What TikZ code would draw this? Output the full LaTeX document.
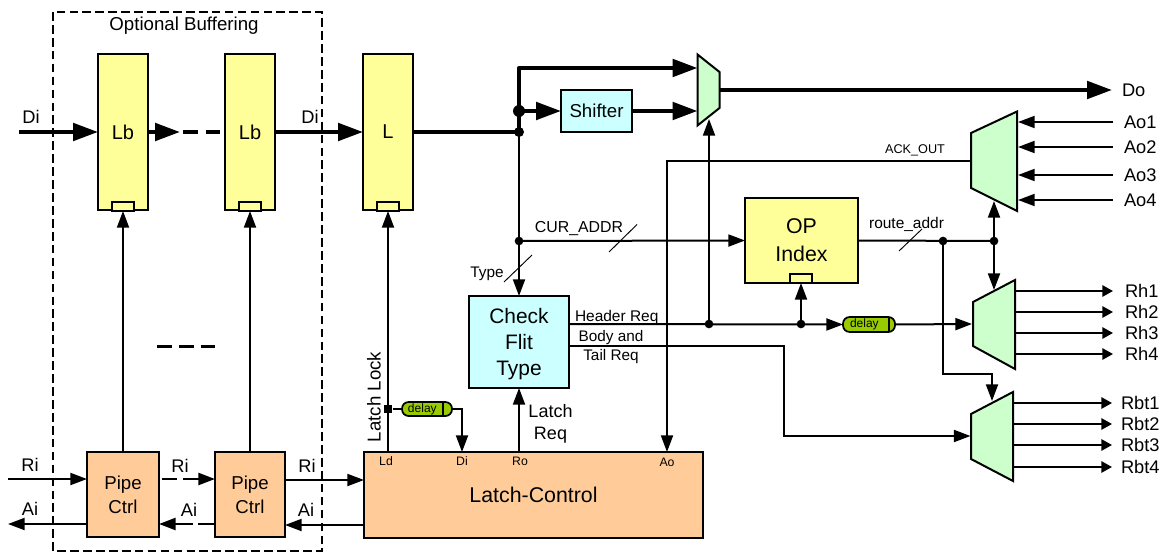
\documentclass[tikz,border=0pt]{standalone}
\usepackage{fontspec}
\setmainfont{Liberation Sans}
\usetikzlibrary{arrows.meta}
\definecolor{lyellow}{HTML}{FFFF99}
\definecolor{lorange}{HTML}{FFCC99}
\definecolor{lcyan}{HTML}{CCFFFF}
\definecolor{lgreen}{HTML}{CCFFCC}
\definecolor{ldelay}{HTML}{99CC00}
\newcommand{\fsz}[2]{\fontsize{#1pt}{#2pt}\selectfont}
% name, style, x1, y1, x2, y2, text
\newcommand{\bx}[7]{\node[blockbox,#2,minimum width={(#5-#3)*0.75pt},minimum height={(#6-#4)*0.75pt}] (#1) at ({(#3+#5)/2},{(#4+#6)/2}) {#7};}
\tikzset{
  blockbox/.style={draw=black,line width=1.4pt,inner sep=0pt,outer sep=0pt,align=center},
  yel/.style={fill=lyellow},
  ora/.style={fill=lorange},
  cya/.style={fill=lcyan},
  clk/.style={fill=lyellow,line width=1.3pt},
  muxs/.style={draw=black,fill=lgreen,line width=1.5pt,line join=miter},
  lbl/.style={inner sep=0pt,outer sep=0pt,align=center},
  heavy/.style={line width=3.1pt,-{Triangle[length=18.75pt,width=13pt]}},
  heavyline/.style={line width=3.1pt},
  med/.style={line width=1.9pt},
  sig/.style={line width=1.5pt,-{Triangle[length=12.5pt,width=9pt]}},
  sigline/.style={line width=1.5pt},
  outs/.style={line width=1.5pt,-{Triangle[length=8pt,width=8.5pt]}},
  slash/.style={line width=0.7pt},
  dot/.style={circle,fill=black,inner sep=0pt,outer sep=0pt,minimum size=6.5pt},
  bigdot/.style={circle,fill=black,inner sep=0pt,outer sep=0pt,minimum size=9pt},
  delaybox/.style={draw=black,fill=ldelay,line width=1.3pt,rounded corners=5pt,inner sep=0pt,outer sep=0pt,font=\fsz{9}{10}},
}
\begin{document}
\begin{tikzpicture}[x=0.75pt,y=-0.75pt]
\useasboundingbox (0,0) rectangle (1162,552);
% optional buffering
\draw[line width=1.5pt,dash pattern=on 6.5pt off 3.2pt] (53,12) rectangle (322,551);
\node[lbl,font=\fsz{14}{16}] (optb) at (184,26) {Optional Buffering};
% latches
\bx{lb1}{yel,font=\fsz{15}{17}}{98}{54}{148}{210}{Lb}
\bx{lb2}{yel,font=\fsz{15}{17}}{225}{54}{275}{210}{Lb}
\bx{la}{yel,font=\fsz{15}{17}}{363}{54}{413}{210}{L}
\bx{ck1}{clk}{112}{202}{134}{211}{}
\bx{ck2}{clk}{239}{202}{261}{211}{}
\bx{ck3}{clk}{377}{202}{399}{211}{}
% pipe ctrl and latch control
\bx{pc1}{ora,font=\fsz{14}{18}}{87}{452}{159}{537}{Pipe\\Ctrl}
\bx{pc2}{ora,font=\fsz{14}{18}}{215}{452}{285}{537}{Pipe\\Ctrl}
\bx{lc}{ora,font=\fsz{16}{18}}{364}{452}{703}{538}{Latch-Control}
% other boxes
\bx{shf}{cya,font=\fsz{14}{16}}{561}{90}{632}{132}{Shifter}
\bx{cft}{cya,font=\fsz{15.7}{19.5}}{469}{296}{569}{388}{\vphantom{p}\\[-14pt]Check\\Flit\\Type}
\bx{opi}{yel,font=\fsz{16}{21}}{745}{198}{858}{283}{OP\\Index}
\bx{ck4}{clk}{790}{274}{812}{283}{}
% muxes
\draw[muxs] (697.5,54.5) -- (719.5,72) -- (719.5,108) -- (697.5,125.5) -- cycle;
\draw[muxs] (971,133) -- (1017,111.5) -- (1017,211) -- (971,188) -- cycle;
\draw[muxs] (973,302) -- (1015,280) -- (1015,369) -- (973,346) -- cycle;
\draw[muxs] (971,414) -- (1013,392) -- (1013,481) -- (971,459) -- cycle;
% delay elements
\bx{dl1}{delaybox}{402}{402}{452}{416}{\hspace*{-3.5pt}delay\hspace*{3.5pt}}
\bx{dl2}{delaybox}{843}{317}{895}{332}{\hspace*{-3.5pt}delay\hspace*{3.5pt}}
\draw[line width=1.3pt] (443,402) -- (443,416);
\draw[line width=1.3pt] (889,317) -- (889,332);
% ports and junctions
\coordinate (diin) at (19,132);
\coordinate (lbgo) at (180,132);
\coordinate (lbd1) at (183,132);
\coordinate (lbd2) at (220,132);
\coordinate (j2) at (519,132);
\coordinate (jtop) at (519,68);
\coordinate (j1) at (519,111);
\coordinate (j3) at (519,241);
\coordinate (m1a) at (697.5,68);
\coordinate (m1b) at (697.5,111);
\coordinate (m1o) at (719.5,90);
\coordinate (doe) at (1112,90);
\coordinate (m1s) at (709,119);
\coordinate (jh1) at (709,324);
\coordinate (jh2) at (801,324);
\coordinate (cfh) at (569,324);
\coordinate (cfb) at (569,346);
\coordinate (b1) at (784,346);
\coordinate (b2) at (784,436);
\coordinate (m4i) at (970.5,436);
\coordinate (m3i) at (972,324);
\coordinate (aoL) at (971,161);
\coordinate (aoC) at (667,161);
\coordinate (lcao) at (667,452);
\coordinate (ra1) at (943,241);
\coordinate (ra2) at (994,241);
\coordinate (m2b) at (994,201);
\coordinate (m3t) at (994,290);
\coordinate (r1) at (943,374);
\coordinate (r2) at (992,374);
\coordinate (m4t) at (992,401);
\coordinate (sq) at (388,409);
\coordinate (lcld) at (388,452);
\coordinate (dt) at (462,409);
\coordinate (lcdi) at (462,452);
\coordinate (lcro) at (519,452);
% data path
\draw[heavy] (diin) -- (lb1.west);
\draw[heavy] (lb1.east) -- (lbgo);
\draw[heavyline,dash pattern=on 11.25pt off 6pt] (lbd1) -- (lbd2);
\draw[heavy] (lb2.east) -- (la.west);
\draw[heavyline] (la.east) -- (j2);
\draw[heavyline,line join=round] (j2) -- (j1);
\draw[heavy,line join=round] (j1) -- (jtop) -- (m1a);
\draw[heavy] (j1) -- (shf.west);
\draw[heavy] (shf.east) -- (m1b);
\draw[heavy] (m1o) -- (doe);
\node[bigdot] (jd1) at (j1) {};
\node[dot,minimum size=7.5pt] (jd2) at (j2) {};
\draw[med] (j2) -- (j3);
% down from data path
\draw[sig] (j3) -- (cft.north);
\draw[sig] (j3) -- (opi.west);
\node[dot] (jd3) at (j3) {};
\draw[slash] (609,252) -- (637,224.5);
\draw[slash] (504,282) -- (532,255);
% Check flit outputs
\draw[sig] (cfh) -- (dl2.west);
\draw[sig] (jh1) -- (m1s);
\draw[sig] (jh2) -- (ck4.south);
\node[dot] (jd4) at (jh1) {};
\node[dot] (jd5) at (jh2) {};
\draw[sig] (dl2.east) -- (m3i);
\draw[sig] (cfb) -- (b1) -- (b2) -- (m4i);
% ack out
\draw[sig] (aoL) -- (aoC) -- (lcao);
% route addr
\draw[sigline] (opi.east) -- (ra2);
\draw[sig] (ra2) -- (m2b);
\draw[sig] (ra2) -- (m3t);
\draw[sig] (ra1) -- (r1) -- (r2) -- (m4t);
\node[dot] (jd6) at (ra1) {};
\node[dot] (jd7) at (ra2) {};
\draw[slash] (899,251) -- (922,229);
% clocks
\draw[sig] (pc1.north) -- (ck1.south);
\draw[sig] (pc2.north) -- (ck2.south);
\draw[sig] (lcld) -- (ck3.south);
\node[fill=black,inner sep=0pt,minimum size=6.5pt] (sqn) at (sq) {};
\draw[sigline] (sqn) -- (dl1.west);
\draw[sig] (dl1.east) -- (dt) -- (lcdi);
\draw[sig] (lcro) -- (cft.south);
% handshake
\coordinate (ri0) at (8,479);
\coordinate (ai0) at (8,524);
\coordinate (pc1r) at (87,479);
\coordinate (pc1a) at (87,524);
\coordinate (pc1rr) at (162,479);
\coordinate (pc1ar) at (159,524);
\coordinate (pc2r) at (215,479);
\coordinate (pc2a) at (216,524);
\coordinate (pc2rr) at (285,480);
\coordinate (pc2ar) at (285,525);
\coordinate (lcr) at (364,480);
\coordinate (lca) at (364,525);
\draw[sig] (ri0) -- (pc1r);
\draw[sig] (pc1a) -- (ai0);
\draw[sig,line width=1.8pt,dash pattern=on 11pt off 5pt on 40pt off 0pt] (pc1rr) -- (pc2r);
\draw[sig,line width=1.8pt,dash pattern=on 13.5pt off 3.75pt on 40pt off 0pt] (pc2a) -- (pc1ar);
\draw[sig] (pc2rr) -- (lcr);
\draw[sig] (lca) -- (pc2ar);
\coordinate (dsh1) at (157,346.5);
\coordinate (dsh2) at (216.5,346.5);
\draw[line width=2.2pt,dash pattern=on 11pt off 5.4pt] (dsh1) -- (dsh2);
% ao inputs
\foreach \yy/\nm in {122/1,147/2,175/3,200/4}{
  \coordinate (aoi\nm) at (1113,\yy);
  \coordinate (aom\nm) at (1018,\yy);
  \draw[sig] (aoi\nm) -- (aom\nm);
  \node[lbl,anchor=west,font=\fsz{13.7}{16}] (aot\nm) at (1124,\yy) {Ao\nm};
}
\foreach \yy/\nm in {291/1,312/2,333/3,354/4}{
  \coordinate (rhm\nm) at (1015,\yy);
  \coordinate (rho\nm) at (1113,\yy);
  \draw[outs] (rhm\nm) -- (rho\nm);
  \node[lbl,anchor=west,font=\fsz{13.7}{16}] (rht\nm) at (1125,\yy) {Rh\nm};
}
\foreach \yy/\nm in {403/1,424/2,445/3,467/4}{
  \coordinate (rbm\nm) at (1013,\yy);
  \coordinate (rbo\nm) at (1112,\yy);
  \draw[outs] (rbm\nm) -- (rbo\nm);
  \node[lbl,anchor=west,font=\fsz{13.7}{16}] (rbt\nm) at (1121,\yy) {Rbt\nm};
}
% labels
\node[lbl,font=\fsz{13.7}{16}] (t1) at (31,117) {Di};
\node[lbl,font=\fsz{13.7}{16}] (t2) at (310,117) {Di};
\node[lbl,font=\fsz{13.7}{16}] (t3) at (30,465) {Ri};
\node[lbl,font=\fsz{13.7}{16}] (t4) at (30,509) {Ai};
\node[lbl,font=\fsz{13.7}{16}] (t5) at (180,466) {Ri};
\node[lbl,font=\fsz{13.7}{16}] (t6) at (189,510) {Ai};
\node[lbl,font=\fsz{13.7}{16}] (t7) at (307,466) {Ri};
\node[lbl,font=\fsz{13.7}{16}] (t8) at (306,510) {Ai};
\node[lbl,font=\fsz{13.7}{16},anchor=west] (t9) at (1122,90) {Do};
\node[lbl,font=\fsz{14}{16},rotate=90] (t10) at (374,397) {Latch Lock};
\node[lbl,font=\fsz{9.2}{10}] (t11) at (386,461) {Ld};
\node[lbl,font=\fsz{9.2}{10}] (t12) at (462,461) {Di};
\node[lbl,font=\fsz{9.2}{10}] (t13) at (520,461) {Ro};
\node[lbl,font=\fsz{9.2}{10}] (t14) at (667,462) {Ao};
\node[lbl,font=\fsz{13.5}{16.5}] (t15) at (550.5,424) {Latch\\Req};
\node[lbl,font=\fsz{11.6}{13},anchor=west] (t16) at (575,317) {Header Req};
\node[lbl,font=\fsz{11.5}{14.25}] (t17) at (611,347.5) {Body and\\Tail Req};
\node[lbl,font=\fsz{9.5}{11}] (t18) at (915,150) {ACK\_OUT};
\node[lbl,font=\fsz{11.9}{14}] (t19) at (579,229) {CUR\_ADDR};
\node[lbl,font=\fsz{11.6}{14}] (t20) at (906.5,224) {route\_addr};
\node[lbl,font=\fsz{11.5}{14}] (t21) at (487,274) {Type};
\end{tikzpicture}
\end{document}
